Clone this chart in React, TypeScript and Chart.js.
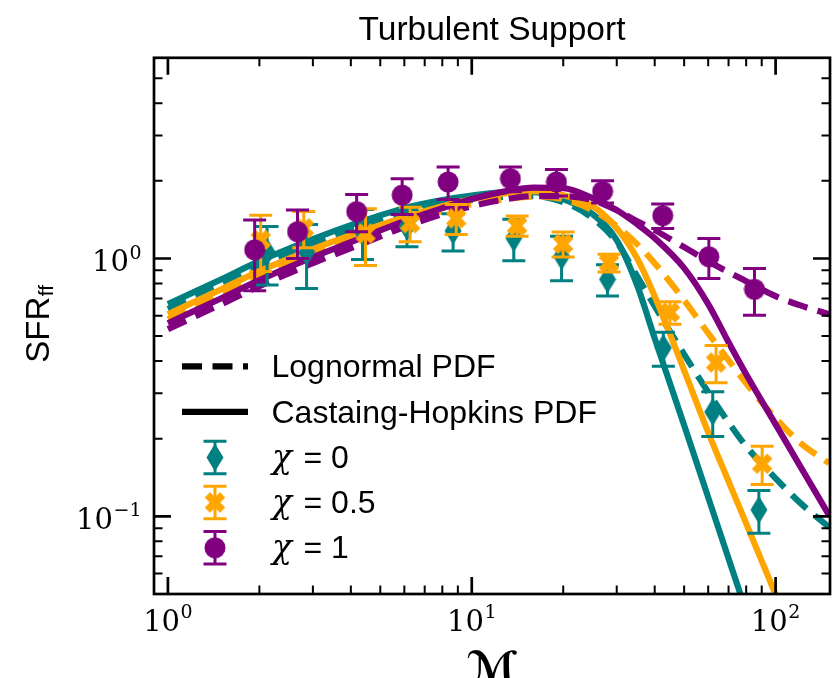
import React, { useEffect, useRef } from "react";
import { Chart, registerables } from "chart.js";

Chart.register(...registerables);

const TEAL = "#008080";
const ORANGE = "#ffa500";
const PURPLE = "#800080";
const SANS = '"Liberation Sans", Arial, sans-serif';
const SERIF = '"DejaVu Serif", serif';

// Mach numbers at which the model curves are tabulated
const machGrid = [1, 1.5, 2, 3, 4, 6, 8, 10, 13, 16, 20, 25, 30, 35, 40, 50, 60, 70, 80, 100, 120, 150];

// Lognormal PDF model (dashed)
const lognormalChi0 = [0.636, 0.795, 0.934, 1.137, 1.288, 1.499, 1.61, 1.684, 1.737, 1.745, 1.654, 1.434, 1.157, 0.854, 0.653, 0.425, 0.303, 0.2316, 0.1869, 0.1404, 0.1133, 0.0907];
const lognormalChi05 = [0.581, 0.727, 0.854, 1.039, 1.178, 1.383, 1.526, 1.624, 1.699, 1.737, 1.699, 1.539, 1.335, 1.137, 0.959, 0.689, 0.513, 0.403, 0.328, 0.24, 0.1937, 0.1606];
const lognormalChi1 = [0.532, 0.665, 0.781, 0.959, 1.096, 1.323, 1.485, 1.595, 1.699, 1.745, 1.745, 1.684, 1.539, 1.395, 1.288, 1.106, 0.976, 0.885, 0.816, 0.714, 0.659, 0.608];

// Castaing-Hopkins PDF model (solid), tabulated until it drops out of view
const hopkinsChi0 = [0.665, 0.831, 0.976, 1.188, 1.347, 1.567, 1.684, 1.753, 1.808, 1.808, 1.699, 1.485, 1.178, 0.788, 0.49, 0.2255, 0.1185, 0.0687, 0.0428];
const hopkinsChi05 = [0.608, 0.76, 0.893, 1.087, 1.231, 1.446, 1.595, 1.699, 1.792, 1.825, 1.76, 1.595, 1.311, 1.003, 0.714, 0.3686, 0.2118, 0.1367, 0.0939, 0.0498, 0.0302];
const hopkinsChi1 = [0.561, 0.701, 0.824, 1.012, 1.157, 1.395, 1.567, 1.699, 1.825, 1.883, 1.874, 1.714, 1.539, 1.359, 1.199, 0.917, 0.665, 0.4733, 0.3556, 0.2275, 0.1577, 0.1009];

// Simulation measurements with 1-sigma errors
const chi0Mach = [2.12, 2.86, 4.37, 6.12, 8.68, 13.75, 19.75, 27.98, 42.7, 62.1, 88.1];
const chi0Sfr = [1.06, 1.06, 1.27, 1.33, 1.28, 1.2, 1.02, 0.83, 0.45, 0.254, 0.106];
const chi0Err = [0.27, 0.295, 0.28, 0.22, 0.21, 0.22, 0.2, 0.115, 0.068, 0.05, 0.02];

const chi05Mach = [2.02, 2.8, 4.47, 6.27, 8.89, 14.1, 19.98, 28.3, 44.9, 63.7, 90.3];
const chi05Sfr = [1.18, 1.31, 1.25, 1.37, 1.43, 1.34, 1.14, 0.963, 0.618, 0.395, 0.16];
const chi05Err = [0.29, 0.21, 0.31, 0.21, 0.19, 0.12, 0.127, 0.076, 0.062, 0.065, 0.027];

const chi1Mach = [1.93, 2.67, 4.18, 5.9, 8.36, 13.4, 19.0, 26.95, 42.5, 60.3, 85.2];
const chi1Sfr = [1.08, 1.27, 1.52, 1.76, 1.98, 2.04, 1.98, 1.82, 1.466, 1.016, 0.759];
const chi1Err = [0.33, 0.27, 0.25, 0.28, 0.285, 0.224, 0.232, 0.18, 0.16, 0.18, 0.156];

// Axis ticks
const xMajorTicks = [1, 10, 100];
const xMajorExponents = ["0", "1", "2"];
const xMinorTicks = [2, 3, 4, 5, 6, 7, 8, 9, 20, 30, 40, 50, 60, 70, 80, 90];
const yMajorTicks = [0.1, 1];
const yMajorExponents = ["\u22121", "0"];
const yMinorTicks = [0.06, 0.07, 0.08, 0.09, 0.2, 0.3, 0.4, 0.5, 0.6, 0.7, 0.8, 0.9, 2, 3, 4, 5];

const titleText = "Turbulent Support";
const modelLabels = ["Lognormal PDF", "Castaing-Hopkins PDF"];
const chiLabels = ["0", "0.5", "1"];

const LINE_W = 6.2;
const DASH = [20, 10.5];

function makeThinDiamond(color: string) {
  const c = document.createElement("canvas");
  c.width = 18;
  c.height = 29;
  const g = c.getContext("2d")!;
  g.fillStyle = color;
  g.beginPath();
  g.moveTo(9, 0.5);
  g.lineTo(17.5, 14.5);
  g.lineTo(9, 28.5);
  g.lineTo(0.5, 14.5);
  g.closePath();
  g.fill();
  return c;
}

function makeFilledX(color: string) {
  const s = 24;
  const c = document.createElement("canvas");
  c.width = s;
  c.height = s;
  const g = c.getContext("2d")!;
  g.translate(s / 2, s / 2);
  g.rotate(Math.PI / 4);
  const a = 3.7;
  const b = 10.8;
  g.fillStyle = color;
  g.beginPath();
  g.moveTo(-a, -b);
  g.lineTo(a, -b);
  g.lineTo(a, -a);
  g.lineTo(b, -a);
  g.lineTo(b, a);
  g.lineTo(a, a);
  g.lineTo(a, b);
  g.lineTo(-a, b);
  g.lineTo(-a, a);
  g.lineTo(-b, a);
  g.lineTo(-b, -a);
  g.lineTo(-a, -a);
  g.closePath();
  g.fill();
  return c;
}

function makeCircle(color: string) {
  const c = document.createElement("canvas");
  c.width = 22;
  c.height = 22;
  const g = c.getContext("2d")!;
  g.fillStyle = color;
  g.beginPath();
  g.arc(11, 11, 10.5, 0, Math.PI * 2);
  g.fill();
  return c;
}

function curve(values: number[], color: string, dashed: boolean, order: number) {
  return {
    data: values.map((v, i) => ({ x: machGrid[i], y: v })),
    borderColor: color,
    backgroundColor: color,
    borderWidth: LINE_W,
    borderDash: dashed ? DASH : [],
    borderCapStyle: "butt",
    pointRadius: 0,
    showLine: true,
    fill: false,
    cubicInterpolationMode: "monotone",
    order,
  };
}

function measurements(mach: number[], sfr: number[], err: number[], color: string, marker: HTMLCanvasElement, order: number) {
  return {
    data: mach.map((m, i) => ({ x: m, y: sfr[i] })),
    errors: err,
    borderColor: color,
    backgroundColor: color,
    borderWidth: 0,
    pointStyle: marker,
    pointRadius: 10,
    showLine: false,
    order,
  };
}

function drawErrorBar(ctx: CanvasRenderingContext2D, x: number, top: number, bot: number) {
  ctx.beginPath();
  ctx.moveTo(x, top);
  ctx.lineTo(x, bot);
  ctx.moveTo(x - 11.5, top);
  ctx.lineTo(x + 11.5, top);
  ctx.moveTo(x - 11.5, bot);
  ctx.lineTo(x + 11.5, bot);
  ctx.stroke();
}

const errorBarPlugin = {
  id: "errorBars",
  beforeDatasetDraw(chart: any, args: any) {
    const ds = chart.data.datasets[args.index];
    if (!ds.errors) return;
    const yScale = chart.scales.y;
    const ctx: CanvasRenderingContext2D = chart.ctx;
    ctx.save();
    ctx.strokeStyle = ds.borderColor;
    ctx.lineWidth = 3;
    ctx.lineCap = "butt";
    ctx.setLineDash([]);
    args.meta.data.forEach((pt: any, i: number) => {
      const v = ds.data[i].y;
      const e = ds.errors[i];
      drawErrorBar(ctx, pt.x, yScale.getPixelForValue(v + e), yScale.getPixelForValue(v - e));
    });
    ctx.restore();
  },
};

function powerWidths(ctx: CanvasRenderingContext2D, exp: string) {
  ctx.font = `29px ${SERIF}`;
  const w1 = ctx.measureText("10").width;
  ctx.font = `19px ${SERIF}`;
  const w2 = ctx.measureText(exp).width;
  return [w1, w2];
}

function drawPower(ctx: CanvasRenderingContext2D, exp: string, left: number, baseline: number) {
  const [w1] = powerWidths(ctx, exp);
  ctx.font = `29px ${SERIF}`;
  ctx.fillText("10", left, baseline);
  ctx.font = `19px ${SERIF}`;
  ctx.fillText(exp, left + w1 + 0.5, baseline - 12.5);
}

function makeDecorPlugin(markers: HTMLCanvasElement[]) {
  return {
    id: "decor",
    afterDraw(chart: any) {
      const ctx: CanvasRenderingContext2D = chart.ctx;
      const a = chart.chartArea;
      const xs = chart.scales.x;
      const ys = chart.scales.y;
      ctx.save();
      ctx.setLineDash([]);
      ctx.strokeStyle = "#000";
      ctx.fillStyle = "#000";
      ctx.lineCap = "butt";

      // inward ticks on all four sides
      const xTick = (v: number, len: number, w: number) => {
        const px = xs.getPixelForValue(v);
        ctx.lineWidth = w;
        ctx.beginPath();
        ctx.moveTo(px, a.bottom);
        ctx.lineTo(px, a.bottom - len);
        ctx.moveTo(px, a.top);
        ctx.lineTo(px, a.top + len);
        ctx.stroke();
      };
      const yTick = (v: number, len: number, w: number) => {
        const py = ys.getPixelForValue(v);
        ctx.lineWidth = w;
        ctx.beginPath();
        ctx.moveTo(a.left, py);
        ctx.lineTo(a.left + len, py);
        ctx.moveTo(a.right, py);
        ctx.lineTo(a.right - len, py);
        ctx.stroke();
      };
      xMinorTicks.forEach((v) => xTick(v, 8.5, 2));
      xMajorTicks.forEach((v) => xTick(v, 17, 2.7));
      yMinorTicks.forEach((v) => yTick(v, 8.5, 2));
      yMajorTicks.forEach((v) => yTick(v, 17, 2.7));

      // frame
      ctx.lineWidth = 2.7;
      ctx.strokeRect(a.left, a.top, a.right - a.left, a.bottom - a.top);

      // tick labels
      ctx.textAlign = "left";
      ctx.textBaseline = "alphabetic";
      xMajorTicks.forEach((v, i) => {
        const exp = xMajorExponents[i];
        const [w1, w2] = powerWidths(ctx, exp);
        const px = xs.getPixelForValue(v);
        drawPower(ctx, exp, px - (w1 + w2 + 0.5) / 2, 630.7);
      });
      yMajorTicks.forEach((v, i) => {
        const exp = yMajorExponents[i];
        const [w1, w2] = powerWidths(ctx, exp);
        const py = ys.getPixelForValue(v);
        drawPower(ctx, exp, 141.5 - (w1 + w2 + 0.5), py + 12.6);
      });

      // title
      ctx.font = `33.5px ${SANS}`;
      ctx.textAlign = "center";
      ctx.fillText(titleText, (a.left + a.right) / 2, 40);

      // x axis label
      ctx.font = `bold 44px "DejaVu Sans", ${SERIF}`;
      ctx.fillText("\u2133", (a.left + a.right) / 2, 683);

      // y axis label, rotated
      ctx.save();
      ctx.translate(48.5, 324);
      ctx.rotate(-Math.PI / 2);
      ctx.textAlign = "left";
      ctx.font = `33px ${SANS}`;
      const wMain = ctx.measureText("SFR").width;
      ctx.font = `21px ${SANS}`;
      const wSub = ctx.measureText("ff").width;
      const start = -(wMain + wSub) / 2;
      ctx.font = `33px ${SANS}`;
      ctx.fillText("SFR", start, 0);
      ctx.font = `21px ${SANS}`;
      ctx.fillText("ff", start + wMain + 0.5, 4.5);
      ctx.restore();

      // legend
      ctx.textAlign = "left";
      const hx0 = 182;
      const hx1 = 248;
      const hxc = 215;
      const textX = 271.5;
      const rowBase = [377, 422.5, 468, 513, 558.3];
      ctx.strokeStyle = "#000";
      ctx.lineWidth = LINE_W;
      ctx.setLineDash(DASH);
      ctx.beginPath();
      ctx.moveTo(hx0, rowBase[0] - 10.7);
      ctx.lineTo(hx1, rowBase[0] - 10.7);
      ctx.stroke();
      ctx.setLineDash([]);
      ctx.beginPath();
      ctx.moveTo(hx0, rowBase[1] - 10.7);
      ctx.lineTo(hx1, rowBase[1] - 10.7);
      ctx.stroke();
      ctx.font = `32px ${SANS}`;
      ctx.fillStyle = "#000";
      ctx.fillText(modelLabels[0], textX, rowBase[0]);
      ctx.fillText(modelLabels[1], textX, rowBase[1]);

      const colors = [TEAL, ORANGE, PURPLE];
      chiLabels.forEach((lab, i) => {
        const base = rowBase[2 + i];
        const cy = base - 10.5;
        ctx.strokeStyle = colors[i];
        ctx.lineWidth = 3;
        drawErrorBar(ctx, hxc, cy - 16.3, cy + 16.3);
        const m = markers[i];
        ctx.drawImage(m, hxc - m.width / 2, cy - m.height / 2);
        ctx.fillStyle = "#000";
        ctx.font = `italic 33px ${SERIF}`;
        ctx.fillText("\u03c7", textX + 0.5, base);
        ctx.font = `32px ${SANS}`;
        ctx.fillText("= " + lab, 303.5, base);
      });
      ctx.restore();
    },
  };
}

export default function App() {
  const canvasRef = useRef<HTMLCanvasElement | null>(null);

  useEffect(() => {
    const canvas = canvasRef.current;
    if (!canvas) return;
    const diamond = makeThinDiamond(TEAL);
    const cross = makeFilledX(ORANGE);
    const circle = makeCircle(PURPLE);

    const chart = new Chart(canvas, {
      type: "scatter",
      data: {
        datasets: [
          curve(hopkinsChi1, PURPLE, false, 10),
          curve(lognormalChi1, PURPLE, true, 11),
          curve(hopkinsChi05, ORANGE, false, 12),
          curve(lognormalChi05, ORANGE, true, 13),
          curve(hopkinsChi0, TEAL, false, 14),
          curve(lognormalChi0, TEAL, true, 15),
          measurements(chi1Mach, chi1Sfr, chi1Err, PURPLE, circle, 1),
          measurements(chi05Mach, chi05Sfr, chi05Err, ORANGE, cross, 2),
          measurements(chi0Mach, chi0Sfr, chi0Err, TEAL, diamond, 3),
        ] as any,
      },
      options: {
        responsive: false,
        animation: false,
        devicePixelRatio: 1,
        events: [],
        layout: { padding: { left: 154, top: 57.8, right: 0.4, bottom: 84 } },
        scales: {
          x: { type: "logarithmic", min: 0.9, max: 151, display: false },
          y: { type: "logarithmic", min: 0.05, max: 6, display: false },
        },
        plugins: {
          legend: { display: false },
          tooltip: { enabled: false },
          title: { display: false },
        },
      } as any,
      plugins: [errorBarPlugin, makeDecorPlugin([diamond, cross, circle])],
    });
    return () => chart.destroy();
  }, []);

  return (
    <div style={{ position: "fixed", left: 0, top: 0, width: 840, height: 678, background: "#fff" }}>
      <canvas ref={canvasRef} width={840} height={678} style={{ display: "block" }} />
    </div>
  );
}
